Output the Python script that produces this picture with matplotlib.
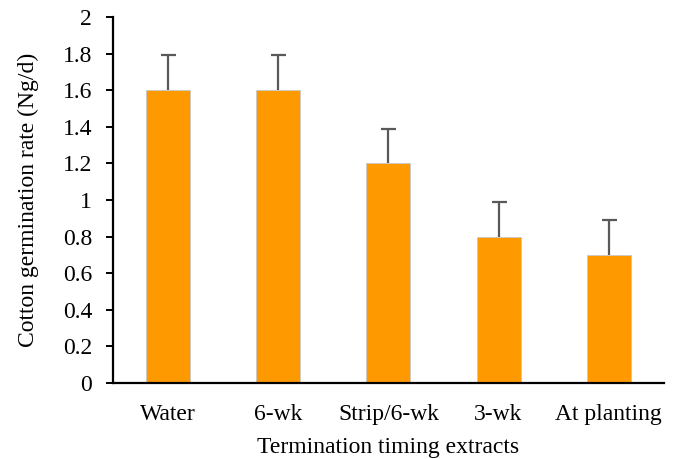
import matplotlib
matplotlib.use('Agg')
import matplotlib.pyplot as plt
from matplotlib.ticker import FuncFormatter, MultipleLocator

plt.rcParams['font.family'] = 'Liberation Serif'

categories = ['Water', '6-wk', 'Strip/6-wk', '3-wk', 'At planting']
rates = [1.6, 1.6, 1.2, 0.8, 0.7]
errors = [0.19, 0.19, 0.19, 0.19, 0.19]

fig = plt.figure(figsize=(6.78, 4.59), dpi=100, facecolor='white')
ax = fig.add_axes([0.1667, 0.1656, 0.8123, 0.7974])

x = list(range(len(categories)))
ax.bar(x, rates, width=0.4, color='#FF9900', edgecolor='#C8C8C8', linewidth=0.6,
       zorder=2)

# upper-only error bars, no cap at the bar top
_, caps, _ = ax.errorbar(x, rates, yerr=[[0] * len(errors), errors], fmt='none',
                         ecolor='#595959', elinewidth=1.6, capsize=5.4,
                         capthick=1.6, zorder=3)
caps[0].set_visible(False)

ax.set_xlim(-0.5, len(categories) - 0.5)
ax.set_ylim(0, 2)
ax.yaxis.set_major_locator(MultipleLocator(0.2))
ax.yaxis.set_major_formatter(FuncFormatter(lambda v, p: f'{v:g}'))

ax.set_xticks(x)
ax.set_xticklabels(categories)

for side in ['top', 'right']:
    ax.spines[side].set_visible(False)
ax.spines['left'].set_linewidth(1.6)
ax.spines['bottom'].set_linewidth(1.6)

ax.tick_params(axis='y', direction='out', length=5, width=1.4, labelsize=17, pad=10)
ax.tick_params(axis='x', length=0, labelsize=17, pad=15)

ax.set_xlabel('Termination timing extracts', fontsize=17, labelpad=9)
ax.set_ylabel('Cotton germination rate (Ng/d)', fontsize=17, labelpad=17)

fig.savefig('out.png', dpi=100, facecolor='white')
